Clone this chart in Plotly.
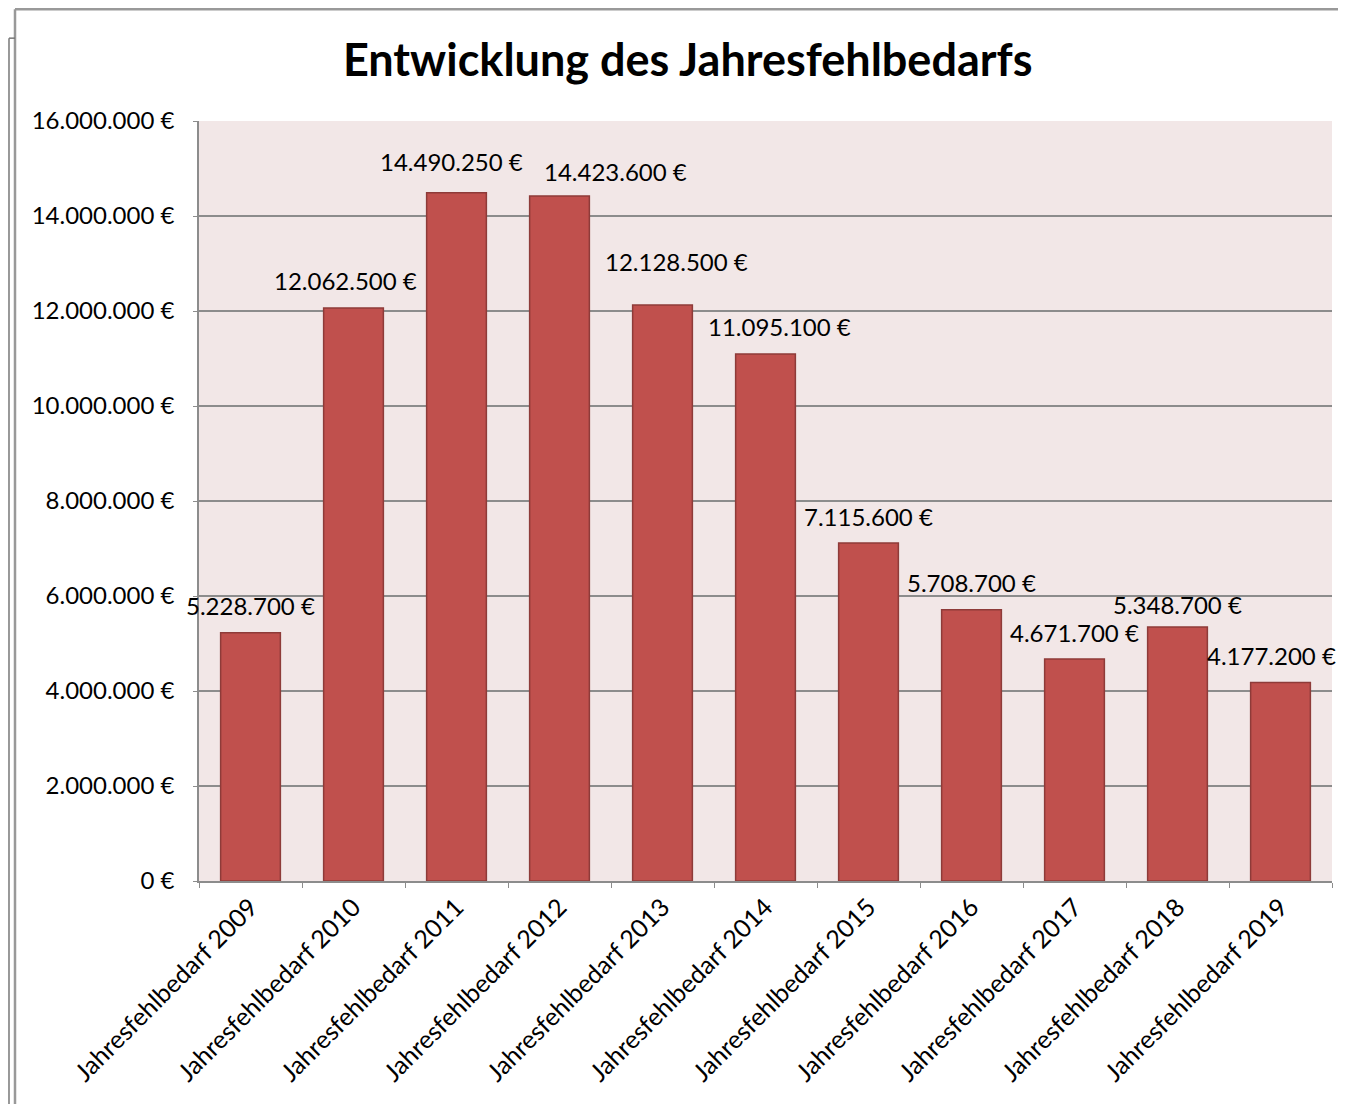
import plotly.graph_objects as go

categories = ["Jahresfehlbedarf 2009", "Jahresfehlbedarf 2010", "Jahresfehlbedarf 2011",
              "Jahresfehlbedarf 2012", "Jahresfehlbedarf 2013", "Jahresfehlbedarf 2014",
              "Jahresfehlbedarf 2015", "Jahresfehlbedarf 2016", "Jahresfehlbedarf 2017",
              "Jahresfehlbedarf 2018", "Jahresfehlbedarf 2019"]
values = [5228700, 12062500, 14490250, 14423600, 12128500, 11095100,
          7115600, 5708700, 4671700, 5348700, 4177200]
label_texts = ["5.228.700 €", "12.062.500 €", "14.490.250 €", "14.423.600 €", "12.128.500 €",
               "11.095.100 €", "7.115.600 €", "5.708.700 €", "4.671.700 €", "5.348.700 €",
               "4.177.200 €"]
tick_vals = [0, 2000000, 4000000, 6000000, 8000000, 10000000, 12000000, 14000000, 16000000]
tick_texts = ["0 €", "2.000.000 €", "4.000.000 €", "6.000.000 €", "8.000.000 €",
              "10.000.000 €", "12.000.000 €", "14.000.000 €", "16.000.000 €"]

# label offsets (pixels), as manually placed in the original
label_dx = [0, -8, -5, 56, 14, 14, 0, 0, 0, 0, -9]
label_dy = [27, 28, 31, 24, 43, 27, 27, 27, 27, 22, 27]

FONT = "Lato"

fig = go.Figure()
fig.add_trace(go.Bar(
    x=categories, y=values, width=0.58,
    marker=dict(color="#C0504D", line=dict(color="#8E3B39", width=1.5)),
    hoverinfo="skip",
))

for c, v, t, dx, dy in zip(categories, values, label_texts, label_dx, label_dy):
    fig.add_annotation(x=c, y=v, text=t, showarrow=False, xanchor="center", yanchor="middle",
                       xshift=dx, yshift=dy, font=dict(family=FONT, size=24, color="#000000"))

GRAY = "#8C8C8C"
shapes = [
    # outer chart frame
    dict(type="line", xref="paper", yref="paper", x0=-0.1624, x1=1.03, y0=1.147, y1=1.147,
         line=dict(color="#999999", width=2.5)),
    dict(type="line", xref="paper", yref="paper", x0=-0.1624, x1=-0.1624, y0=1.147, y1=-0.32,
         line=dict(color="#999999", width=2.5)),
    dict(type="line", xref="paper", yref="paper", x0=-0.1677, x1=-0.1677, y0=1.109, y1=-0.32,
         line=dict(color="#777777", width=1.5)),
    dict(type="line", xref="paper", yref="paper", x0=-0.1677, x1=-0.1624, y0=1.109, y1=1.109,
         line=dict(color="#777777", width=1.5)),
]

fig.update_layout(
    width=1338, height=1096,
    margin=dict(l=191, r=14, t=113, b=223),
    paper_bgcolor="#FFFFFF",
    plot_bgcolor="#F2E7E7",
    showlegend=False,
    title=dict(text="<b>Entwicklung des Jahresfehlbedarfs</b>", x=0.508, xanchor="center",
               y=0.9526, yanchor="middle", font=dict(family=FONT, size=45, color="#000000")),
    shapes=shapes,
    font=dict(family=FONT, color="#000000"),
)
fig.update_yaxes(range=[0, 16000000], tickvals=tick_vals, ticktext=tick_texts,
                 showgrid=True, gridcolor=GRAY, gridwidth=1.5,
                 showline=True, linecolor=GRAY, linewidth=1.5,
                 ticks="outside", ticklen=4, tickcolor=GRAY,
                 ticklabelstandoff=14,
                 tickfont=dict(family=FONT, size=24, color="#000000"), zeroline=False)
fig.update_xaxes(range=[-0.5, len(categories) - 0.5], tickangle=-45,
                 showline=True, linecolor=GRAY, linewidth=1.5,
                 ticks="outside", ticklen=5, tickcolor=GRAY, tickson="boundaries",
                 tickfont=dict(family=FONT, size=25, color="#000000"))

fig.write_html("out.html")
